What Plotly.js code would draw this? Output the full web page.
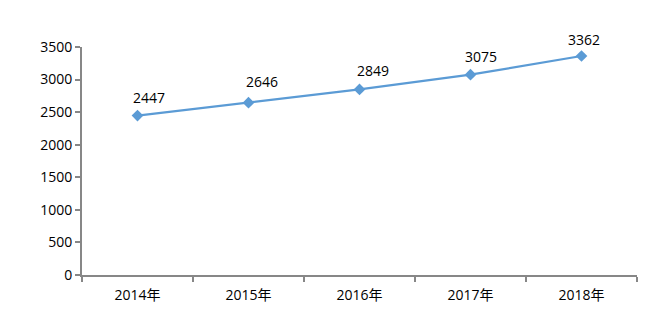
<!DOCTYPE html>
<html><head><meta charset="utf-8">
<script src="https://cdn.plot.ly/plotly-3.0.1.min.js"></script>
<style>html,body{margin:0;padding:0;background:#fff}#chart{width:656px;height:317px}</style>
</head><body><div id="chart"></div>
<script>
const categories = ["2014年","2015年","2016年","2017年","2018年"];
const values = [2447, 2646, 2849, 3075, 3362];
const yTicks = [0,500,1000,1500,2000,2500,3000,3500];

// label placement nudges (pixels), matching the reference's label positions
const labelShiftX = [11, 13, 13, 10, 2];
const labelShiftY = [18, 21, 19, 18, 16];

const font = "Open Sans, Noto Sans CJK SC, sans-serif";
const trace = {
  x: categories, y: values, type: "scatter", mode: "lines+markers",
  line: {color: "#5B9BD5", width: 2.25},
  marker: {symbol: "diamond", size: 9, color: "#5B9BD5"},
  hoverinfo: "skip"
};
const annotations = categories.map((c, i) => ({
  x: c, y: values[i], xref: "x", yref: "y", text: String(values[i]),
  showarrow: false, xshift: labelShiftX[i], yshift: labelShiftY[i],
  font: {family: font, size: 14, color: "#000"}
}));
const layout = {
  width: 656, height: 317,
  margin: {l: 82, r: 19, t: 47, b: 42},
  paper_bgcolor: "#fff", plot_bgcolor: "#fff",
  showlegend: false,
  font: {family: font, size: 14, color: "#000"},
  xaxis: {
    type: "category", range: [-0.5, categories.length - 0.5],
    tickson: "boundaries", ticks: "outside", ticklen: 5, tickwidth: 2,
    tickcolor: "#878787", showline: true, linecolor: "#878787", linewidth: 2,
    showgrid: false, zeroline: false, fixedrange: true, ticklabelstandoff: 6,
    tickfont: {family: font, size: 14, color: "#000"}
  },
  yaxis: {
    range: [0, 3500], tickvals: yTicks, ticktext: yTicks.map(String),
    ticks: "outside", ticklen: 5, tickwidth: 2, tickcolor: "#878787",
    showline: true, linecolor: "#878787", linewidth: 2,
    showgrid: false, zeroline: false, fixedrange: true,
    tickfont: {family: font, size: 14, color: "#000"}
  },
  annotations: annotations
};
Plotly.newPlot("chart", [trace], layout, {displayModeBar: false, staticPlot: true});
</script></body></html>
